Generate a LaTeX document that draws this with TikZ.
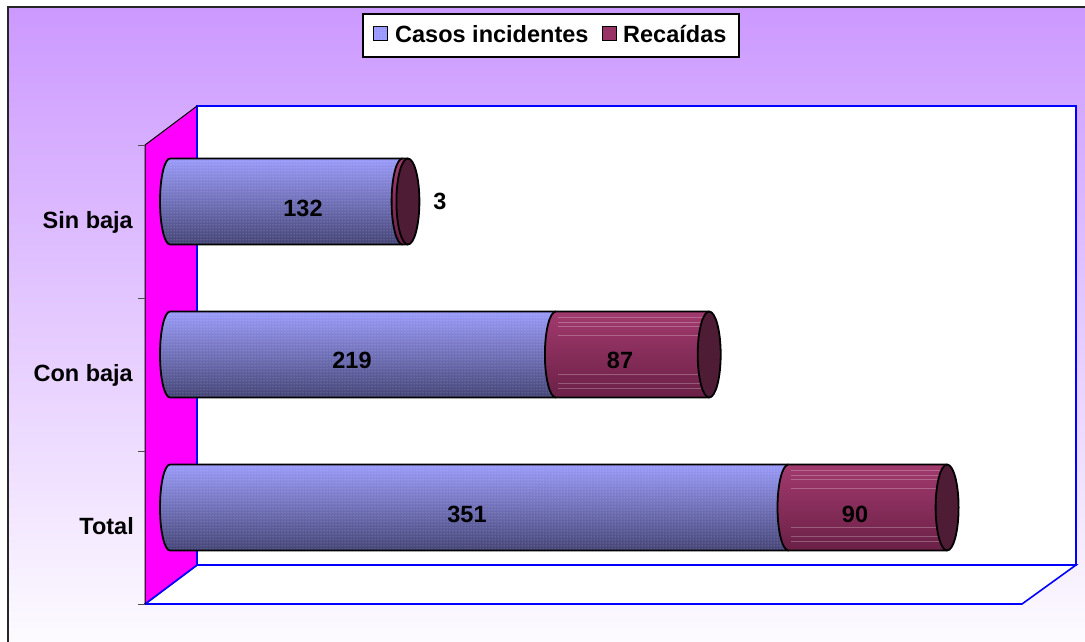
\documentclass[tikz,border=0pt]{standalone}
\usepackage{fontspec}
\setmainfont{Liberation Sans}
\usetikzlibrary{patterns}
\definecolor{bgpurple}{HTML}{CC99FF}
\definecolor{wallmag}{HTML}{FF00FF}
\definecolor{casosTop}{HTML}{9A9AFA}
\definecolor{casosMid}{HTML}{7878D2}
\definecolor{casosBot}{HTML}{454576}
\definecolor{recTop}{HTML}{A23A6E}
\definecolor{recMid}{HTML}{922F60}
\definecolor{recBot}{HTML}{6A2046}
\definecolor{recCap}{HTML}{4F1C36}
\definecolor{legCasos}{HTML}{9999FF}
\definecolor{legRec}{HTML}{993366}
\begin{document}
\begin{tikzpicture}[x=1pt,y=-1pt,
	lbl/.style={font=\fontsize{23.5}{28}\selectfont\bfseries,inner sep=0pt},
	casos/.style={top color=casosTop,middle color=casosMid,bottom color=casosBot},
	recaida/.style={top color=recTop,middle color=recMid,bottom color=recBot},
	rim/.style={draw=black,line width=1.8},
	wallline/.style={draw=blue,line width=1.6}]
			\useasboundingbox (0,0) rectangle (1085,642);
			\fill[white] (0,0) rectangle (1085,642);
			\shade[top color=bgpurple,bottom color=white!96!bgpurple] (8,7) rectangle (1086,643);
			\draw[line width=1.5,black!85] (8,643) -- (8,7) -- (1086,7);
			\filldraw[fill=white,wallline] (197,106) rectangle (1076,565);
			\filldraw[fill=white,wallline] (145,604) -- (197,565) -- (1076,565) -- (1022,604) -- cycle;
			\fill[wallmag] (145,145) -- (197,106) -- (197,565) -- (145,604) -- cycle;
			\draw[wallline] (197,106) -- (197,565);
			\draw[wallline] (145,604) -- (197,565);
			\draw[line width=1] (145,604) -- (145,145) -- (197,106);
			\foreach \y in {145,298,451,604}
				\draw[line width=0.8,black!70] (138,\y) -- (145,\y);
			\foreach \c/\xm/\xe in {201.5/402.6/407.9,354.5/555.9/709.2,507.5/788.5/947.1} {
				\shade[casos] (170,\c-43) -- (\xm,\c-43) -- (\xm,\c+43) -- (170,\c+43) arc[start angle=90,end angle=270,x radius=10,y radius=43] -- cycle;
				\fill[pattern=dots,pattern color=white,fill opacity=0.45] (170,\c-43) -- (\xm,\c-43) -- (\xm,\c+43) -- (170,\c+43) arc[start angle=90,end angle=270,x radius=10,y radius=43] -- cycle;
				\draw[rim] (\xm,\c-43) -- (170,\c-43) arc[start angle=270,end angle=90,x radius=10,y radius=43] -- (\xm,\c+43);
				\shade[recaida] (\xm,\c-43) -- (\xe,\c-43) -- (\xe,\c+43) -- (\xm,\c+43) arc[start angle=90,end angle=270,x radius=11,y radius=43] -- cycle;
				\foreach \d in {-37,-32,-28,-19,20,29,34}
					\draw[white,opacity=0.25,line width=0.8] (\xm+2,\c+\d) -- (\xe,\c+\d);
				\draw[rim] (\xm,\c-43) -- (\xe,\c-43) (\xe,\c+43) -- (\xm,\c+43) arc[start angle=90,end angle=270,x radius=11,y radius=43];
				\filldraw[fill=recCap,rim] (\xe,\c) ellipse[x radius=11.5,y radius=43];
			}
			\node[lbl,anchor=base east] (sinbaja) at (133,228.5) {Sin baja};
			\node[lbl,anchor=base east] (conbaja) at (133,381.5) {Con baja};
			\node[lbl,anchor=base east] (total) at (134,534) {Total};
			\node[lbl,anchor=base] (v132) at (303,216.5) {132};
			\node[lbl,anchor=base] (v3) at (440,209.5) {3};
			\node[lbl,anchor=base] (v219) at (352,368.5) {219};
			\node[lbl,anchor=base] (v87) at (620,368.5) {87};
			\node[lbl,anchor=base] (v351) at (467,522.5) {351};
			\node[lbl,anchor=base] (v90) at (855,522.5) {90};
			\filldraw[fill=white,draw=black,line width=1.2] (363,14) rectangle (739,57);
			\filldraw[fill=legCasos,draw=black,line width=1] (373,27) rectangle (387,41);
			\fill[pattern=dots,pattern color=white,fill opacity=0.4] (373,27) rectangle (387,41);
			\filldraw[fill=legRec,draw=black,line width=1] (602,27) rectangle (616,41);
			\node[lbl,anchor=base west] (lgcasos) at (395,43) {Casos incidentes};
			\node[lbl,anchor=base west] (lgrec) at (623,43) {Recaídas};
\end{tikzpicture}
\end{document}
